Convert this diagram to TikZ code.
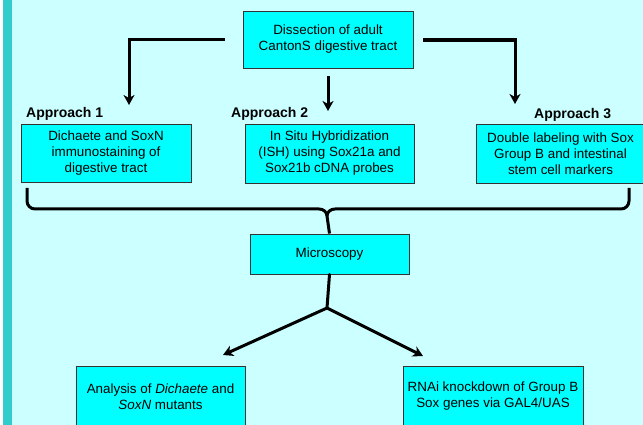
\documentclass[tikz,border=0pt]{standalone}
\usepackage{fontspec}
\setmainfont{Liberation Sans}
\usetikzlibrary{arrows.meta}
\definecolor{bgcyan}{HTML}{CCFFFF}
\definecolor{boxcyan}{HTML}{00FFFF}
\definecolor{stripe}{HTML}{33CCCC}
\definecolor{edge}{HTML}{333333}
\tikzset{
  procbox/.style={draw=edge, line width=0.9pt, fill=boxcyan, align=center, inner sep=0pt,
    font=\fontsize{13.4}{16}\selectfont},
  apprlabel/.style={anchor=base west, inner sep=0pt, font=\fontsize{14}{16}\selectfont\bfseries},
  flow/.style={line width=3pt, -{Stealth[length=10pt,width=11pt,inset=3pt]}},
  bracepath/.style={line width=3pt, line cap=butt, line join=round},
}
\begin{document}
\begin{tikzpicture}[x=1pt,y=-1pt]
\useasboundingbox (0,0) rectangle (643,425);
\clip (0,0) rectangle (643,425);
\fill[bgcyan] (0,0) rectangle (643,425);
\fill[white] (0,0) rectangle (3,425);
\fill[stripe] (3,0) rectangle (12,425);

% boxes
\node[procbox, minimum width=170pt, minimum height=57pt] (dissect) at (328,39.5)
  {Dissection of adult\\CantonS digestive tract};
\node[procbox, minimum width=170pt, minimum height=58pt] (ap1) at (106,153)
  {Dichaete and SoxN\\immunostaining of\\digestive tract};
\node[procbox, minimum width=169pt, minimum height=59pt] (ap2) at (329.5,153.5)
  {In Situ Hybridization\\(ISH) using Sox21a and\\Sox21b cDNA probes};
\node[procbox, minimum width=169pt, minimum height=59pt] (ap3) at (560.5,153.5)
  {Double labeling with Sox\\Group B and intestinal\\stem cell markers};
\node[procbox, minimum width=159pt, minimum height=40pt] (micro) at (329.5,254)
  {Microscopy};
\node[procbox, minimum width=169pt, minimum height=61pt] (mut) at (160.5,396.5)
  {Analysis of \textit{Dichaete} and\\\textit{SoxN} mutants};
\node[procbox, minimum width=180pt, minimum height=61pt] (rnai) at (493,396.5)
  {RNAi knockdown of Group B\\Sox genes via GAL4/UAS};

% approach labels
\node[apprlabel] (lab1) at (26,118) {Approach 1};
\node[apprlabel] (lab2) at (231,118) {Approach 2};
\node[apprlabel] (lab3) at (534,119) {Approach 3};

% coordinates
\coordinate (lstart) at (225,40);
\coordinate (lcorner) at (129,40);
\coordinate (ltip) at (129,105);
\coordinate (rstart) at (423,40);
\coordinate (rcorner) at (515,40);
\coordinate (rtip) at (515,104);
\coordinate (mstart) at (328,76);
\coordinate (mtip) at (328,111);
\coordinate (branch) at (327,308);
\coordinate (btipl) at (223,355);
\coordinate (btipr) at (423,356);

% top connectors
\draw[line width=3pt] (lstart) -- ([xshift=-1.5pt]lcorner);
\draw[flow] ([yshift=-1.5pt]lcorner) -- (ltip);
\draw[line width=4.5pt] (rstart) -- ([xshift=1.5pt]rcorner);
\draw[flow] ([yshift=-2.25pt]rcorner) -- (rtip);
\draw[flow] (mstart) -- (mtip);

% brace
\draw[bracepath] (27,188) -- (27,201) to[out=-90,in=180] (35,209) -- (319,209)
  to[out=0,in=90] (327,216) -- (micro.north);
\draw[bracepath] (629,188) -- (629,201) to[out=-90,in=0] (621,209) -- (335,209)
  to[out=180,in=90] (327,216);

% bottom connectors
\draw[line width=3pt, line cap=round] (micro.south) -- (branch);
\draw[flow] (branch) -- (btipl);
\draw[flow] (branch) -- (btipr);
\end{tikzpicture}
\end{document}
